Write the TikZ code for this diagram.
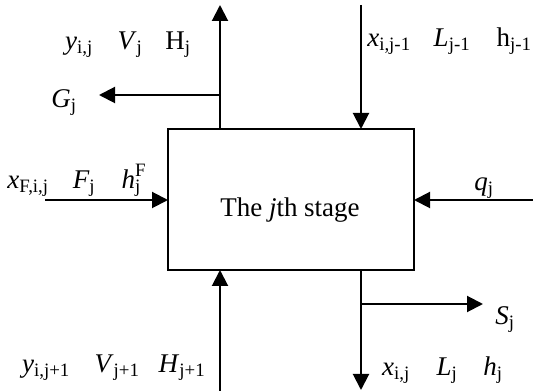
\documentclass[tikz,border=0pt]{standalone}
\usepackage{fontspec}
\setmainfont{Liberation Serif}
\usetikzlibrary{arrows.meta}
\newcommand\sbs[1]{\textsubscript{#1}}
\newcommand\sps[1]{\textsuperscript{#1}}
\tikzset{
  flow/.style={line width=2pt,-{Triangle[length=16pt,width=16pt]}},
  lbl/.style={inner sep=0pt,anchor=base,font=\fontsize{27}{32}\selectfont},
  stagebox/.style={draw,line width=2pt,minimum width=246pt,minimum height=141pt,inner sep=0pt}
}
\begin{document}
\begin{tikzpicture}[x=1pt,y=1pt]
\useasboundingbox (0,0) rectangle (533,391);
\node[stagebox] (box) at (291,191.5) {};
\node[lbl] (title) at (290,174) {The \textit{j}th stage};
% coordinates
\coordinate (tl) at (220,386);
\coordinate (tlb) at (220,262);
\coordinate (gbr) at (220,296);
\coordinate (gend) at (99,296);
\coordinate (tr) at (361,386);
\coordinate (trb) at (361,262);
\coordinate (lin) at (45,191);
\coordinate (lb) at (168,191);
\coordinate (rin) at (533,191);
\coordinate (rb) at (414,191);
\coordinate (bl) at (220,0);
\coordinate (blb) at (220,121);
\coordinate (brb) at (361,121);
\coordinate (br) at (361,1);
\coordinate (sbr) at (361,87);
\coordinate (send) at (483,87);
% arrows
\draw[flow] (tlb) -- (tl);
\draw[flow] (gbr) -- (gend);
\draw[flow] (tr) -- (trb);
\draw[flow] (lin) -- (lb);
\draw[flow] (rin) -- (rb);
\draw[flow] (bl) -- (blb);
\draw[flow] (brb) -- (br);
\draw[flow] (sbr) -- (send);
% labels top-left
\node[lbl] (y1) at (79,341) {\textit{y}\sbs{i,j}};
\node[lbl] (v1) at (130,341) {\textit{V}\sbs{j}};
\node[lbl] (h1) at (178,341) {H\sbs{j}};
\node[lbl] (g1) at (64,283) {\textit{G}\sbs{j}};
% top-right
\node[lbl] (x1) at (389,344) {\textit{x}\sbs{i,j-1}};
\node[lbl] (l1) at (452,344) {\textit{L}\sbs{j-1}};
\node[lbl] (hh1) at (514,344) {h\sbs{j-1}};
% left
\node[lbl] (xf) at (28,202) {\textit{x}\sbs{F,i,j}};
\node[lbl] (f1) at (84,202) {\textit{F}\sbs{j}};
\node[lbl] (hf) at (134,202) {\textit{h}\makebox[0pt][l]{\sbs{j}}\raisebox{3pt}{\sps{F}}};
% right
\node[lbl] (q1) at (484,200) {\textit{q}\sbs{j}};
% bottom right
\node[lbl] (s1) at (505,66) {\textit{S}\sbs{j}};
\node[lbl] (x2) at (396,15) {\textit{x}\sbs{i,j}};
\node[lbl] (l2) at (447,15) {\textit{L}\sbs{j}};
\node[lbl] (h2) at (493,15) {\textit{h}\sbs{j}};
% bottom left
\node[lbl] (y2) at (46,18) {\textit{y}\sbs{i,j+1}};
\node[lbl] (v2) at (117,18) {\textit{V}\sbs{j+1}};
\node[lbl] (h3) at (182,18) {\textit{H}\sbs{j+1}};
\end{tikzpicture}
\end{document}
